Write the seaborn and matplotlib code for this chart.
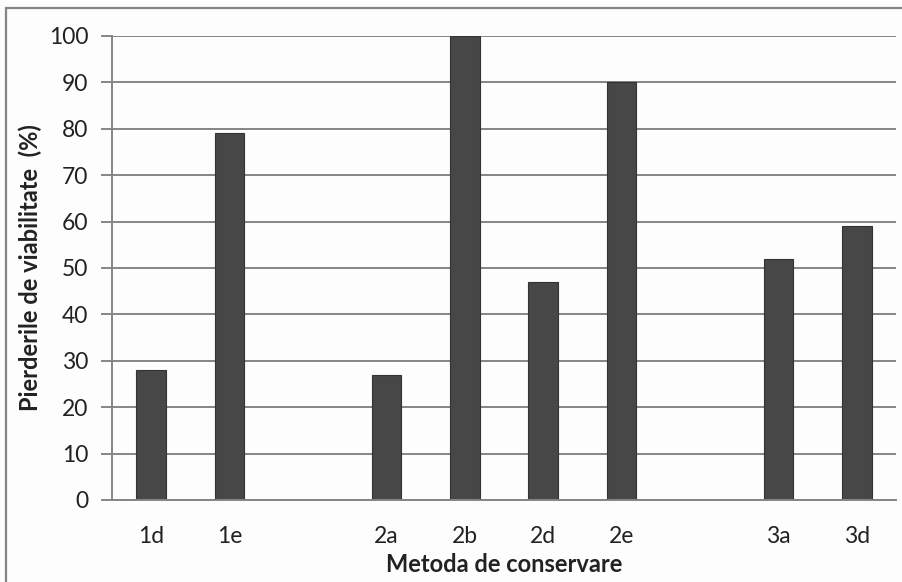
import matplotlib
matplotlib.use("Agg")
import matplotlib.pyplot as plt
import matplotlib.patches as mpatches
import numpy as np
import pandas as pd
import seaborn as sns

# Conservation methods and viability loss (%)
methods = ["1d", "1e", "2a", "2b", "2d", "2e", "3a", "3d"]
losses = [28, 79, 27, 100, 47, 90, 52, 59]
# Slot order along the x axis; the whitespace entries are empty gaps between groups
slot_order = ["1d", "1e", " ", "2a", "2b", "2d", "2e", "  ", "3a", "3d"]
y_ticks = [0, 10, 20, 30, 40, 50, 60, 70, 80, 90, 100]

df = pd.DataFrame({"Metoda": methods, "Pierderi": losses})

sns.set_style("white")
plt.rcParams["font.family"] = ["Lato", "DejaVu Sans"]

fig = plt.figure(figsize=(9.03, 5.82), dpi=100, facecolor="#fdfdfd")
ax = fig.add_axes([112 / 903, 1 - 500 / 582, (896 - 112) / 903, (500 - 36) / 582])
ax.set_facecolor("#fdfdfd")

sns.barplot(data=df, x="Metoda", y="Pierderi", order=slot_order, color="#474747",
            saturation=1, width=0.38, edgecolor="#333333", linewidth=0.8, ax=ax)

ax.set_ylim(0, 100)
ax.set_xlim(-0.5, len(slot_order) - 0.5)
ax.set_yticks(y_ticks)
ax.yaxis.grid(True, color="#858585", linewidth=1.4)
ax.set_axisbelow(True)

for side in ["top", "right"]:
    ax.spines[side].set_visible(False)
for side in ["left", "bottom"]:
    ax.spines[side].set_color("#858585")
    ax.spines[side].set_linewidth(1.4)

# Category boundary ticks on the x axis
ax.set_xticks(np.arange(-0.5, len(slot_order), 1.0), minor=True)
ax.tick_params(axis="x", which="major", length=0, pad=19, labelsize=16.5, colors="#222222")
ax.tick_params(axis="x", which="minor", length=8, width=1.4, color="#858585", direction="out")
ax.tick_params(axis="y", which="major", length=8, width=1.4, color="#858585",
               direction="out", pad=9, labelsize=16.5, labelcolor="#222222", left=True)

ax.set_xlabel("Metoda de conservare", fontsize=17, fontweight="bold", color="#222222", labelpad=4)
ax.set_ylabel("Pierderile de viabilitate  (%)", fontsize=17, fontweight="bold",
              color="#222222", labelpad=5)

# Outer chart frame
fig.patches.append(mpatches.Rectangle((6 / 903, -0.1), 1.2, 1 - 8 / 582 + 0.1,
                                      transform=fig.transFigure, fill=False,
                                      edgecolor="#858585", linewidth=1.6))

fig.savefig("out.png", dpi=100, facecolor=fig.get_facecolor())
